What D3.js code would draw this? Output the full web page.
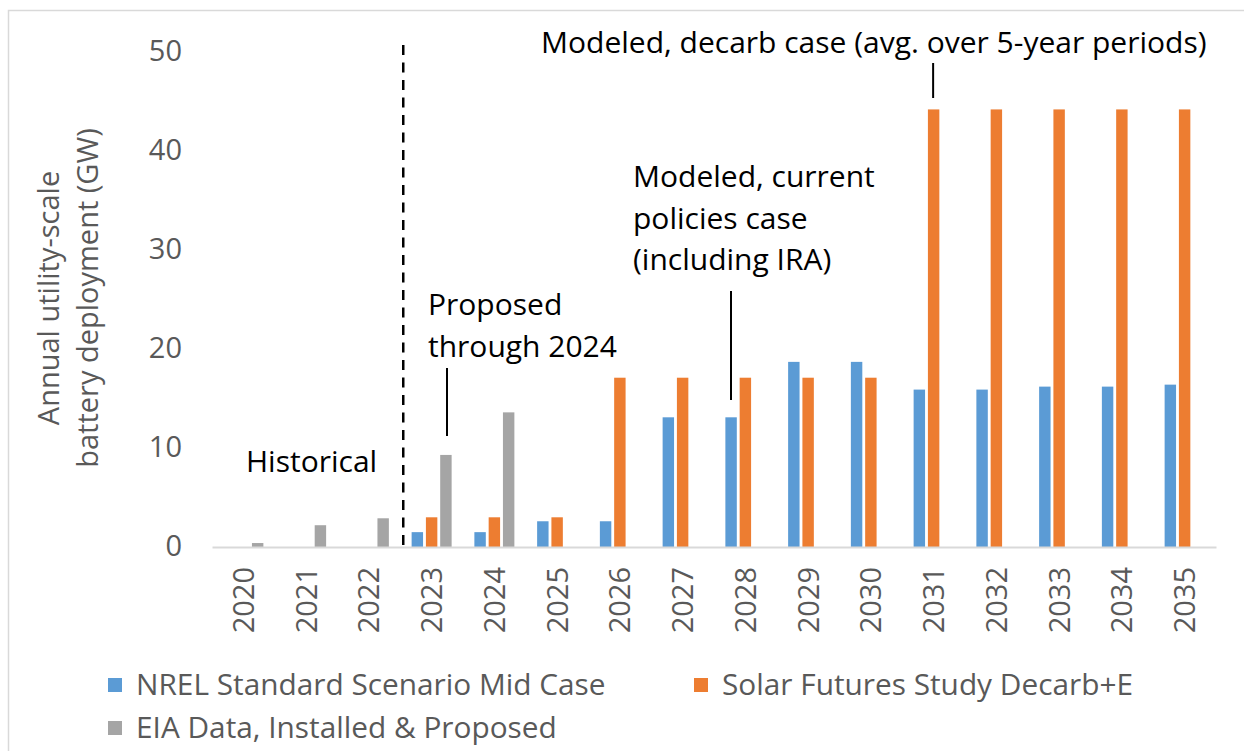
<!DOCTYPE html>
<html lang="en">
<head>
<meta charset="utf-8">
<title>Utility-scale battery deployment</title>
<script src="https://d3js.org/d3.v7.min.js"></script>
<style>
  body { margin: 0; background: #fff; }
  text { font-family: "Open Sans", sans-serif; }
</style>
</head>
<body>
<script>
// data (GW per year)
const years = ["2020", "2021", "2022", "2023", "2024", "2025", "2026", "2027",
               "2028", "2029", "2030", "2031", "2032", "2033", "2034", "2035"];
const nrelMid = [null, null, null, 1.5, 1.5, 2.6, 2.6, 13.1, 13.1, 18.7, 18.7, 15.9, 15.9, 16.2, 16.2, 16.4];
const solarFutures = [null, null, null, 3.0, 3.0, 3.0, 17.1, 17.1, 17.1, 17.1, 17.1, 44.2, 44.2, 44.2, 44.2, 44.2];
const eiaData = [0.4, 2.2, 2.9, 9.3, 13.6, null, null, null, null, null, null, null, null, null, null, null];
const seriesNames = ["NREL Standard Scenario Mid Case", "Solar Futures Study Decarb+E", "EIA Data, Installed & Proposed"];
const seriesColors = ["#5B9BD5", "#ED7D31", "#A5A5A5"];
const yTicks = [0, 10, 20, 30, 40, 50];

const width = 1244;
const height = 751;

const allSeries = [nrelMid, solarFutures, eiaData];

const svg = d3.select("body").append("svg")
    .attr("width", width)
    .attr("height", height);

// chart border
svg.append("rect")
    .attr("x", 8.5).attr("y", 10.5)
    .attr("width", width + 20).attr("height", height + 20)
    .attr("fill", "none")
    .attr("stroke", "#D9D9D9")
    .attr("stroke-width", 1.5);

const x0 = d3.scaleBand().domain(years).range([212, 1216]);
const bw = x0.bandwidth();
const x1 = d3.scaleBand().domain(seriesNames)
    .range([bw / 2 - 20, bw / 2 + 20])
    .paddingInner(0.2);
const y = d3.scaleLinear().domain([0, 50]).range([547, 52]);

// bars
const rows = [];
years.forEach((yr, i) => {
    seriesNames.forEach((s, j) => {
        const v = allSeries[j][i];
        if (v !== null) rows.push({ year: yr, series: s, value: v, color: seriesColors[j] });
    });
});

svg.append("g").selectAll("rect")
    .data(rows)
    .enter()
    .append("rect")
    .attr("x", d => x0(d.year) + x1(d.series))
    .attr("y", d => y(d.value))
    .attr("width", x1.bandwidth())
    .attr("height", d => y(0) - y(d.value))
    .attr("fill", d => d.color);

// bottom axis
const bottomAxis = d3.axisBottom(x0).tickSize(0).tickPadding(0);
const xg = svg.append("g")
    .attr("transform", "translate(0," + y(0) + ")")
    .call(bottomAxis);
xg.select(".domain").attr("stroke", "#D9D9D9").attr("stroke-width", 2);
xg.selectAll("text")
    .attr("transform", "rotate(-90)")
    .attr("x", -20)
    .attr("y", 0)
    .attr("dy", "0.36em")
    .style("text-anchor", "end")
    .style("font-size", "29px")
    .style("font-family", "Open Sans")
    .attr("fill", "#595959");

// left axis (labels only)
const leftAxis = d3.axisLeft(y).tickValues(yTicks).tickSize(0).tickPadding(0);
const yg = svg.append("g")
    .attr("transform", "translate(182,0)")
    .call(leftAxis);
yg.select(".domain").remove();
yg.selectAll("text")
    .attr("dy", "0.3em")
    .style("font-size", "29px")
    .style("font-family", "Open Sans")
    .attr("fill", "#595959");

// y axis title
const yTitle = svg.append("text")
    .attr("transform", "translate(0,298) rotate(-90)")
    .attr("text-anchor", "middle")
    .style("font-size", "29px")
    .attr("fill", "#595959");
yTitle.append("tspan").attr("x", 0).attr("y", 59).text("Annual utility-scale");
yTitle.append("tspan").attr("x", 0).attr("y", 98).text("battery deployment (GW)");

// dashed divider between historical and projected
const divX = x0("2023") + 3;
svg.append("line")
    .attr("x1", divX).attr("x2", divX)
    .attr("y1", 45).attr("y2", y(0))
    .attr("stroke", "#000")
    .attr("stroke-width", 2.5)
    .attr("stroke-dasharray", "10,7.5");

// annotations
function note(lines, xPos, yPos, step) {
    const t = svg.append("text")
        .style("font-size", "30px")
        .attr("fill", "#000");
    lines.forEach((l, i) => {
        t.append("tspan").attr("x", xPos).attr("y", yPos + i * step).text(l);
    });
}
function pointer(xPos, yTop, yBot) {
    svg.append("line")
        .attr("x1", xPos).attr("x2", xPos)
        .attr("y1", yTop).attr("y2", yBot)
        .attr("stroke", "#000").attr("stroke-width", 2);
}

note(["Historical"], 246, 472, 0);
note(["Proposed", "through 2024"], 428, 315, 42);
pointer(447, 368, 436);
note(["Modeled, current", "policies case", "(including IRA)"], 633, 187, 41.5);
pointer(731, 291, 400);
note(["Modeled, decarb case (avg. over 5-year periods)"], 541, 53, 0);
pointer(x0("2031") + bw / 2 - 0.5, 63, 98);

// legend
const legendItems = [
    { name: seriesNames[0], color: seriesColors[0], x: 108, y: 685 },
    { name: seriesNames[1], color: seriesColors[1], x: 694, y: 685 },
    { name: seriesNames[2], color: seriesColors[2], x: 108, y: 728 }
];
const lg = svg.append("g").selectAll("g")
    .data(legendItems)
    .enter()
    .append("g")
    .attr("transform", d => "translate(" + d.x + "," + d.y + ")");
lg.append("rect")
    .attr("x", 0).attr("y", -7)
    .attr("width", 14).attr("height", 14)
    .attr("fill", d => d.color);
lg.append("text")
    .attr("x", 28)
    .attr("y", 0)
    .attr("dy", "0.35em")
    .style("font-size", "29.8px")
    .attr("fill", "#595959")
    .text(d => d.name);
</script>
</body>
</html>
